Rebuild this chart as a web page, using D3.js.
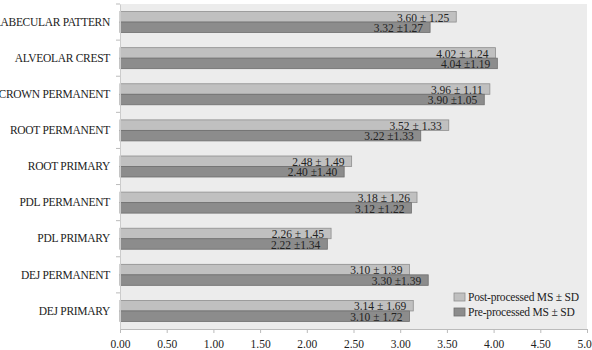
<!DOCTYPE html>
<html><head><meta charset="utf-8">
<script src="https://cdn.jsdelivr.net/npm/d3@7/dist/d3.min.js"></script>
<style>
body{margin:0;background:#fff;}
svg{display:block;}
svg text{font-family:"Liberation Serif","Times New Roman",serif;}
</style></head>
<body><svg id="c" width="592" height="350"></svg>
<script>
const categories = ["TRABECULAR PATTERN","ALVEOLAR CREST","CROWN PERMANENT","ROOT PERMANENT","ROOT PRIMARY","PDL PERMANENT","PDL PRIMARY","DEJ PERMANENT","DEJ PRIMARY"];
const postValues = [3.60,4.02,3.96,3.52,2.48,3.18,2.26,3.10,3.14];
const preValues  = [3.32,4.04,3.90,3.22,2.40,3.12,2.22,3.30,3.10];
const postLabels = ["3.60 ± 1.25","4.02 ± 1.24","3.96 ± 1.11","3.52 ± 1.33","2.48 ± 1.49","3.18 ± 1.26","2.26 ± 1.45","3.10 ± 1.39","3.14 ± 1.69"];
const preLabels  = ["3.32 ±1.27","4.04 ±1.19","3.90 ±1.05","3.22 ±1.33","2.40 ±1.40","3.12 ±1.22","2.22 ±1.34","3.30 ±1.39","3.10 ± 1.72"];
const tickValues = [0,0.5,1,1.5,2,2.5,3,3.5,4,4.5,5];
const seriesNames = ["Post-processed MS ± SD","Pre-processed MS ± SD"];

const svg = d3.select("#c");
const L = 120, R = 587, T = 4, B = 329;
const x = d3.scaleLinear().domain([0,5]).range([L,R]);
const y = d3.scaleBand().domain(categories).range([T,B]);
const inner = d3.scaleBand().domain(["post","pre"]).range([0,y.bandwidth()]).paddingOuter(0.72).paddingInner(0);

svg.append("rect").attr("x",L).attr("y",T).attr("width",R-L).attr("height",B-T).attr("fill","#ececec");

const colors = {post:{fill:"#c0c0c0",stroke:"#8e8e8e"}, pre:{fill:"#8c8c8c",stroke:"#6e6e6e"}};

const g = svg.append("g");
categories.forEach((c,i)=>{
  [["post",postValues[i],postLabels[i]],["pre",preValues[i],preLabels[i]]].forEach(([k,v,lab])=>{
    const by = y(c)+inner(k);
    g.append("rect").attr("x",x(0)).attr("y",by).attr("width",x(v)-x(0)).attr("height",inner.bandwidth())
      .attr("fill",colors[k].fill).attr("stroke",colors[k].stroke).attr("stroke-width",0.8);
    g.append("text").attr("x",x(v)-7).attr("y",by+inner.bandwidth()-0.5).attr("text-anchor","end")
      .attr("font-size",11.5).attr("fill","#222").text(lab);
  });
});

// x axis
const xa = svg.append("g").attr("transform",`translate(0,${B})`)
  .call(d3.axisBottom(x).tickValues(tickValues).tickFormat(d3.format(".2f")).tickSize(4).tickSizeOuter(0));
xa.attr("font-family",null);
xa.select(".domain").attr("stroke","#bbb");
xa.selectAll(".tick line").attr("stroke","#bbb");
xa.selectAll("text").attr("font-size",11.5).attr("fill","#222").attr("dy","1em");

// y axis
const ya = svg.append("g").attr("transform",`translate(${L},0)`)
  .call(d3.axisLeft(y).tickSize(0).tickPadding(10).tickSizeOuter(0));
ya.attr("font-family",null);
ya.select(".domain").attr("stroke","#ccc");
ya.selectAll("text").attr("font-size",11.5).attr("letter-spacing","-0.3").attr("fill","#222");
// separator ticks between categories
svg.append("g").selectAll("line").data(categories.slice(1)).join("line")
  .attr("x1",L-4).attr("x2",L).attr("y1",d=>y(d)).attr("y2",d=>y(d)).attr("stroke","#bbb");
svg.append("line").attr("x1",L-4).attr("x2",L).attr("y1",T).attr("y2",T).attr("stroke","#bbb");

// legend
const lg = svg.append("g");
seriesNames.forEach((n,i)=>{
  const k = i===0?"post":"pre";
  const ly = 297 + i*15;
  lg.append("rect").attr("x",454).attr("y",ly-4).attr("width",11).attr("height",8)
    .attr("fill",colors[k].fill).attr("stroke",colors[k].stroke).attr("stroke-width",0.8);
  lg.append("text").attr("x",468).attr("y",ly+4).attr("font-size",11.5).attr("letter-spacing","-0.2").attr("fill","#222").text(n);
});
</script></body></html>
